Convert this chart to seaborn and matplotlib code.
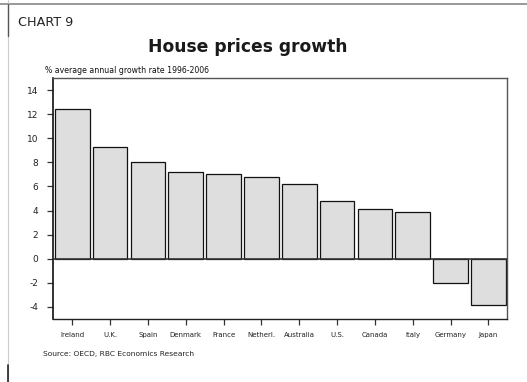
import matplotlib
matplotlib.use("Agg")
import matplotlib.pyplot as plt
import seaborn as sns
import pandas as pd
from matplotlib.lines import Line2D

countries = ["Ireland", "U.K.", "Spain", "Denmark", "France", "Netherl.",
             "Australia", "U.S.", "Canada", "Italy", "Germany", "Japan"]
growth = [12.4, 9.3, 8.0, 7.2, 7.0, 6.8, 6.2, 4.8, 4.1, 3.9, -2.0, -3.8]
yticks = [-4, -2, 0, 2, 4, 6, 8, 10, 12, 14]

sns.set_theme(style="white")
plt.rcParams['font.family'] = ['DejaVu Sans']

df = pd.DataFrame({"country": countries, "growth": growth})

fig = plt.figure(figsize=(5.27, 3.82), dpi=100)
ax = fig.add_axes([0.1012, 0.1649, 0.8615, 0.6309])

sns.barplot(data=df, x="country", y="growth", ax=ax, color="#dedede",
            edgecolor="#111111", linewidth=0.9, width=0.92, saturation=1)
for p in ax.patches:
    p.set_facecolor("#dedede")

ax.set_ylim(-5, 15)
ax.set_xlim(-0.5, len(countries) - 0.5)
ax.set_yticks(yticks)
ax.set_yticklabels([str(v) for v in yticks])
ax.axhline(0, color="#333333", linewidth=1.2, zorder=5)
ax.set_xlabel("")
ax.set_ylabel("")

for s in ax.spines.values():
    s.set_visible(True)
    s.set_color("#555555")
    s.set_linewidth(1.0)
ax.spines["left"].set_color("#111111")
ax.spines["left"].set_linewidth(1.2)
ax.spines["bottom"].set_color("#222222")

ax.tick_params(axis="y", which="both", left=True, length=4.5, width=0.9,
               color="#333333", pad=6.5, labelsize=6.5, labelcolor="#222222")
ax.tick_params(axis="x", which="both", bottom=True, length=4, width=0.9,
               color="#333333", pad=5, labelsize=5, labelcolor="#222222")

fig.text(0.034, 0.94, "CHART 9", fontsize=9.2, color="#222222",
         ha="left", va="center")
fig.text(0.47, 0.877, "House prices growth", fontsize=12.3, fontweight="bold",
         color="#1a1a1a", ha="center", va="center")
fig.text(0.085, 0.815, "% average annual growth rate 1996-2006", fontsize=5.6,
         color="#111111", ha="left", va="center")
fig.text(0.081, 0.073, "Source: OECD, RBC Economics Research", fontsize=5.4,
         color="#222222", ha="left", va="center")

# page frame lines
fig.add_artist(Line2D([0.0, 1.0], [0.99, 0.99], color="#888888", linewidth=1.2,
                      transform=fig.transFigure))
fig.add_artist(Line2D([0.016, 0.016], [0.0, 1.0], color="#cccccc", linewidth=0.8,
                      transform=fig.transFigure))
fig.add_artist(Line2D([0.016, 0.016], [0.905, 0.99], color="#555555", linewidth=1.0,
                      transform=fig.transFigure))
fig.add_artist(Line2D([0.016, 0.016], [0.0, 0.045], color="#222222", linewidth=1.2,
                      transform=fig.transFigure))

fig.savefig("out.png", dpi=100)
